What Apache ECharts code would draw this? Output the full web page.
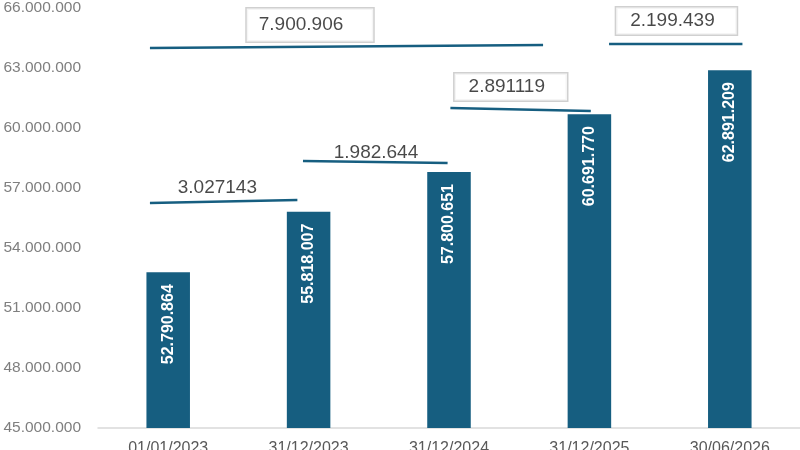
<!DOCTYPE html>
<html style="height: 100%">
<head>
<meta charset="utf-8">
</head>
<body style="height: 100%; margin: 0; background: #fff">
<div id="container" style="width: 800px; height: 450px"></div>
<script type="text/javascript" src="https://cdn.jsdelivr.net/npm/echarts@6/dist/echarts.min.js"></script>
<script type="text/javascript">
// bars
var categories = ['01/01/2023', '31/12/2023', '31/12/2024', '31/12/2025', '30/06/2026'];
var values = [52790864, 55818007, 57800651, 60691770, 62891209];

// difference annotations, x in category units (0 = first bar)
var deltaText = ['3.027143', '1.982.644', '2.891119', '7.900.906', '2.199.439'];
var deltaFrom = [[-0.13, 56250000], [0.96, 58350000], [2.01, 61000000], [-0.13, 64000000], [3.14, 64200000]];
var deltaTo = [[0.92, 56400000], [1.99, 58250000], [3.01, 60850000], [2.67, 64150000], [4.09, 64200000]];
var deltaAt = [[0.35, 57000000], [1.48, 58750000], [2.44, 62050000], [1.01, 65150000], [3.62, 65350000]];
var deltaBoxed = [false, false, true, true, true];

var BLUE = '#165e80';
var FONT = 'Liberation Sans';

function dots(n) {
    return String(Math.round(n)).replace(/\B(?=(\d{3})+(?!\d))/g, '.');
}

var dom = document.getElementById('container');
var myChart = echarts.init(dom);

var series = [{
    type: 'bar',
    data: values,
    barWidth: '31%',
    itemStyle: {color: BLUE},
    label: {
        show: true,
        position: 'insideTop',
        distance: 12,
        rotate: 90,
        align: 'right',
        verticalAlign: 'middle',
        color: '#fff',
        fontWeight: 'bold',
        fontSize: 16,
        fontFamily: FONT,
        formatter: function (p) { return dots(p.value); }
    }
}];

for (var i = 0; i < deltaText.length; i++) {
    series.push({
        type: 'line',
        xAxisIndex: 1,
        data: [deltaFrom[i], deltaTo[i]],
        symbol: 'none',
        silent: true,
        lineStyle: {color: BLUE, width: 2.5}
    });
}

var labelData = [];
for (var j = 0; j < deltaText.length; j++) {
    var lab = {
        show: true,
        position: 'inside',
        formatter: deltaText[j],
        color: '#1a1a1a',
        fontSize: 19,
        fontFamily: FONT
    };
    if (deltaBoxed[j]) {
        lab.borderColor = '#c4c4c4';
        lab.borderWidth = 1.5;
        lab.backgroundColor = '#fff';
        // the wide box is taller and has more room on the right
        lab.padding = j === 3 ? [9, 30, 5, 12] : [6, 22, 2, 14];
    }
    labelData.push({value: deltaAt[j], label: lab});
}
series.push({
    type: 'scatter',
    xAxisIndex: 1,
    symbolSize: 0,
    silent: true,
    data: labelData,
    z: 5
});

var option = {
    animation: false,
    grid: {left: 98, right: 0, top: 8, bottom: 22, outerBoundsMode: 'none', containLabel: false},
    xAxis: [{
        type: 'category',
        data: categories,
        axisTick: {show: false},
        axisLine: {lineStyle: {color: '#d9d9d9', width: 1.5}},
        axisLabel: {color: '#595959', fontSize: 16, fontFamily: FONT, margin: 13}
    }, {
        type: 'value',
        min: -0.5,
        max: 4.5,
        show: false
    }],
    yAxis: {
        type: 'value',
        min: 45000000,
        max: 66000000,
        interval: 3000000,
        axisLine: {show: false},
        axisTick: {show: false},
        splitLine: {show: false},
        axisLabel: {
            color: '#7f7f7f',
            fontSize: 15.5,
            fontFamily: FONT,
            margin: 17,
            formatter: dots
        }
    },
    series: series
};

myChart.setOption(option, true);
</script>
</body>
</html>
